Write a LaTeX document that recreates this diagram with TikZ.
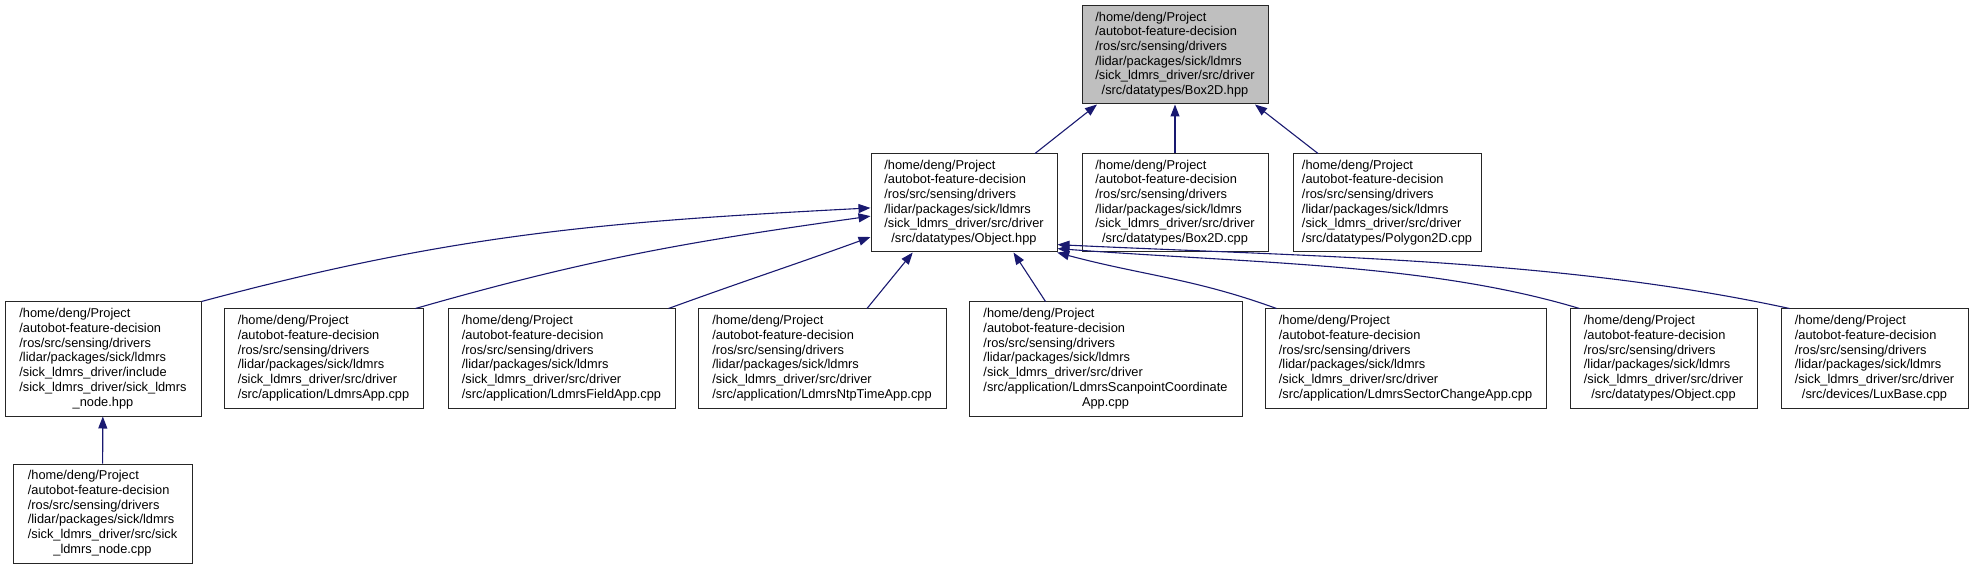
\documentclass[tikz,border=0pt]{standalone}
\usepackage{fontspec}
\setmainfont{Liberation Sans}
\usetikzlibrary{arrows.meta, positioning}
\definecolor{edgeblue}{RGB}{25, 25, 112}
\definecolor{hdrgrey}{RGB}{191, 191, 191}
\newcommand{\ldmrsdir}{/home/deng/Project\\/autobot-feature-decision\\/ros/src/sensing/drivers\\/lidar/packages/sick/ldmrs}
\newcommand{\drvdir}{/sick\_ldmrs\_driver/src/driver}
\newcommand{\fpath}[2]{\begin{tabular}{@{}l@{}}\ldmrsdir\\#1\\\multicolumn{1}{@{}c@{}}{#2}\end{tabular}}

\begin{document}
\begin{tikzpicture}[x=1pt, y=1pt,
    filebox/.style={draw=black!85, line width=1pt, inner xsep=4pt, inner ysep=2pt,
        font=\fontsize{12.8}{14.7}\selectfont, minimum height=99pt},
    tallbox/.style={minimum height=114pt},
    dep/.style={edgeblue, line width=1.1pt, -{Triangle[length=12pt, width=9pt]}}]
    \useasboundingbox (0,0) rectangle (1973,-569);

    % Header under inspection
    \node[filebox, fill=hdrgrey, minimum width=186pt, minimum height=98pt] (boxhpp) at (1175,-55)
        {\fpath{\drvdir}{/src/datatypes/Box2D.hpp}};

    % Second row
    \node[filebox, minimum width=186pt, minimum height=98pt] (objhpp) at (964,-203)
        {\fpath{\drvdir}{/src/datatypes/Object.hpp}};
    \node[filebox, minimum width=186pt, minimum height=98pt] (boxcpp) at (1175,-203)
        {\fpath{\drvdir}{/src/datatypes/Box2D.cpp}};
    \node[filebox, minimum width=188pt, minimum height=98pt] (polycpp) at (1387,-203)
        {\fpath{\drvdir}{/src/datatypes/Polygon2D.cpp}};

    % Third row
    \node[filebox, tallbox, minimum width=196pt] (nodehpp) at (103,-359)
        {\fpath{/sick\_ldmrs\_driver/include\\/sick\_ldmrs\_driver/sick\_ldmrs}{\_node.hpp}};
    \node[filebox, minimum width=199pt] (appcpp) at (323.5,-358.5)
        {\fpath{\drvdir}{/src/application/LdmrsApp.cpp}};
    \node[filebox, minimum width=227pt] (fieldcpp) at (561.5,-358.5)
        {\fpath{\drvdir}{/src/application/LdmrsFieldApp.cpp}};
    \node[filebox, minimum width=248pt] (ntpcpp) at (822,-358.5)
        {\fpath{\drvdir}{/src/application/LdmrsNtpTimeApp.cpp}};
    \node[filebox, tallbox, minimum width=273pt] (scancpp) at (1105.5,-359)
        {\fpath{\drvdir\\/src/application/LdmrsScanpointCoordinate}{App.cpp}};
    \node[filebox, minimum width=281pt] (sectorcpp) at (1405.5,-358.5)
        {\fpath{\drvdir}{/src/application/LdmrsSectorChangeApp.cpp}};
    \node[filebox, minimum width=187pt] (objcpp) at (1663.5,-358.5)
        {\fpath{\drvdir}{/src/datatypes/Object.cpp}};
    \node[filebox, minimum width=187pt] (luxcpp) at (1874.5,-358.5)
        {\fpath{\drvdir}{/src/devices/LuxBase.cpp}};

    % Bottom row
    \node[filebox, minimum width=179pt] (nodecpp) at (102.5,-513.5)
        {\fpath{/sick\_ldmrs\_driver/src/sick}{\_ldmrs\_node.cpp}};

    % Draw includes of Box2D.hpp
    \draw[dep] ([xshift=71pt]objhpp.north) -- ([xshift=-78pt]boxhpp.south);
    \draw[dep] (boxcpp) -- (boxhpp);
    \draw[dep] ([xshift=-69pt]polycpp.north) -- ([xshift=80pt]boxhpp.south);

    % Draw includes of Object.hpp
    \draw[dep] (nodehpp.north east) to[out=15, in=183] (objhpp.183);
    \draw[dep] ([xshift=-8pt]appcpp.north east) to[out=16, in=188] (objhpp.188);
    \draw[dep] ([xshift=-7pt]fieldcpp.north east) to[out=20, in=200] (objhpp.200);
    \draw[dep] ([xshift=45pt]ntpcpp.north) -- (objhpp.224);
    \draw[dep] ([xshift=-60pt]scancpp.north) -- (objhpp.315);
    \draw[dep] ([xshift=12pt]sectorcpp.north west) to[out=160, in=-15] (objhpp.332);
    \draw[dep] ([xshift=10pt]objcpp.north west) .. controls +(-150,45) and +(200,-15) .. (objhpp.334);
    \draw[dep] ([xshift=9pt]luxcpp.north west) .. controls +(-230,50) and +(250,-12) .. (objhpp.336);

    % Draw include of sick_ldmrs_node.hpp
    \draw[dep] (nodecpp) -- (nodehpp);
\end{tikzpicture}
\end{document}
